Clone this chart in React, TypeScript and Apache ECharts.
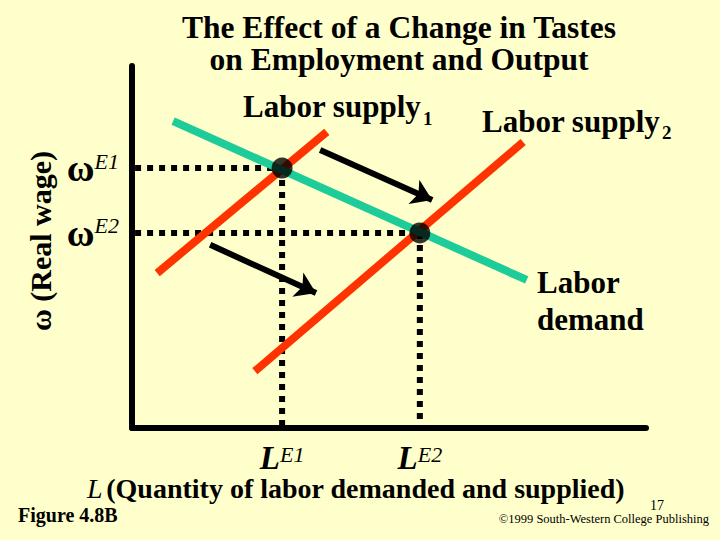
import React, { useEffect, useRef } from "react";
import * as echarts from "echarts";

// ---- data (abstract units: L on x 0..10, real wage on y 0..10) ----
const demandL = [0.8, 7.68];
const demandW = [8.48, 4.09];
const supply1L = [0.49, 3.79];
const supply1W = [4.28, 8.18];
const supply2L = [2.39, 7.61];
const supply2W = [1.57, 7.9];
const equilibriumL = [2.92, 5.6];
const equilibriumW = [7.18, 5.39];
const equilibriumTags = ["E1", "E2"];
const arrowFrom = [[3.66, 7.68], [1.52, 5.06]];
const arrowTo = [[5.84, 6.3], [3.58, 3.73]];

const SERIF = '"Liberation Serif", "Times New Roman", serif';
const RED = "#FF3300";
const TEAL = "#1ECC99";
const BG = "#FFFFCC";

function pairs(xs: number[], ys: number[]) {
  return xs.map((x, i) => [x, ys[i]]);
}

function txt(text: string, x: number, baseline: number, size: number, o: any = {}) {
  return {
    type: "text",
    x,
    y: baseline - 0.34 * size,
    z: 10,
    style: {
      text,
      fontSize: size,
      fontFamily: SERIF,
      fontWeight: o.weight ?? "bold",
      fontStyle: o.style ?? "normal",
      fill: "#000",
      align: o.align ?? "left",
      verticalAlign: "middle",
    },
  };
}

export default function App() {
  const ref = useRef<HTMLDivElement>(null);
  useEffect(() => {
    document.body.style.margin = "0";
    document.body.style.background = BG;
    const chart = echarts.init(ref.current!, null, { renderer: "svg" });

    const dotted = { color: "#000", width: 6, type: [6, 6] as any, cap: "butt" as const };
    const guideSeries: any[] = [];
    equilibriumL.forEach((l, i) => {
      const w = equilibriumW[i];
      guideSeries.push({
        type: "line",
        data: [[0.06, w], [l, w]],
        showSymbol: false,
        lineStyle: dotted,
        z: 1,
        silent: true,
      });
      guideSeries.push({
        type: "line",
        data: [[l, w], [l, 0.05]],
        showSymbol: false,
        lineStyle: dotted,
        z: 1,
        silent: true,
      });
    });

    const option: any = {
      animation: false,
      backgroundColor: BG,
      grid: { left: 132, top: 66, width: 514, height: 362, containLabel: false },
      xAxis: {
        type: "value",
        min: 0,
        max: 10,
        splitLine: { show: false },
        axisTick: { show: false },
        axisLine: { show: true, onZero: false, lineStyle: { color: "#000", width: 6 } },
        axisLabel: {
          customValues: equilibriumL,
          margin: 12,
          formatter: (v: number) => {
            const i = equilibriumL.indexOf(v);
            return `{L|L}{s|${equilibriumTags[i] ?? ""}}`;
          },
          rich: {
            L: { fontSize: 33, fontWeight: "bold", fontStyle: "italic", fontFamily: SERIF, color: "#000", lineHeight: 35 },
            s: { fontSize: 22, fontStyle: "italic", fontFamily: SERIF, color: "#000", lineHeight: 22, verticalAlign: "top", padding: [3, 0, 0, 0] },
          },
        },
      },
      yAxis: {
        type: "value",
        min: 0,
        max: 10,
        splitLine: { show: false },
        axisTick: { show: false },
        axisLine: { show: true, onZero: false, lineStyle: { color: "#000", width: 6 } },
        axisLabel: {
          customValues: equilibriumW,
          margin: 13,
          formatter: (v: number) => {
            const i = equilibriumW.indexOf(v);
            return `{w|ω}{s|${equilibriumTags[i] ?? ""}}`;
          },
          rich: {
            w: { fontSize: 38, fontWeight: "bold", fontFamily: SERIF, color: "#000", lineHeight: 36 },
            s: { fontSize: 22, fontStyle: "italic", fontFamily: SERIF, color: "#000", lineHeight: 22, verticalAlign: "top" },
          },
        },
      },
      series: [
        ...guideSeries,
        {
          name: "Labor supply 1",
          type: "line",
          data: pairs(supply1L, supply1W),
          showSymbol: false,
          lineStyle: { color: RED, width: 8, cap: "butt" },
          z: 2,
        },
        {
          name: "Labor supply 2",
          type: "line",
          data: pairs(supply2L, supply2W),
          showSymbol: false,
          lineStyle: { color: RED, width: 8, cap: "butt" },
          z: 2,
        },
        {
          name: "Labor demand",
          type: "line",
          data: pairs(demandL, demandW),
          showSymbol: false,
          lineStyle: { color: TEAL, width: 8, cap: "butt" },
          z: 3,
        },
        {
          type: "lines",
          coordinateSystem: "cartesian2d",
          data: arrowFrom.map((f, i) => ({ coords: [f, arrowTo[i]] })),
          symbol: ["none", "arrow"],
          symbolSize: 20,
          lineStyle: { color: "#000", width: 6, opacity: 1 },
          z: 4,
        },
        {
          type: "scatter",
          data: pairs(equilibriumL, equilibriumW),
          symbol: "circle",
          symbolSize: 21,
          itemStyle: { color: "#000" },
          z: 5,
        },
      ],
      graphic: [
        txt("The Effect of a Change in Tastes", 399, 38, 31.5, { align: "center" }),
        txt("on Employment and Output", 399, 70, 31.5, { align: "center" }),
        txt("Labor supply", 243, 117, 31),
        txt("1", 423, 125, 19),
        txt("Labor supply", 482, 132, 31),
        txt("2", 662, 139, 19),
        txt("Labor", 537, 293, 31),
        txt("demand", 537, 330, 31),
        {
          type: "text",
          x: 40,
          y: 241,
          rotation: Math.PI / 2,
          z: 10,
          style: {
            text: "ω (Real wage)",
            fontSize: 30,
            fontFamily: SERIF,
            fontWeight: "bold",
            fill: "#000",
            align: "center",
            verticalAlign: "middle",
          },
        },
        {
          type: "text",
          x: 356,
          y: 498 - 0.34 * 28,
          z: 10,
          style: {
            text: "{i|L} {b|(Quantity of labor demanded and supplied)}",
            align: "center",
            verticalAlign: "middle",
            rich: {
              i: { fontSize: 28, fontFamily: SERIF, fontStyle: "italic", fill: "#000" },
              b: { fontSize: 28, fontFamily: SERIF, fontWeight: "bold", fill: "#000" },
            },
          },
        },
        txt("17", 650, 510, 14, { weight: "normal" }),
        txt("Figure 4.8B", 18, 522, 20),
        txt("©1999 South-Western College Publishing", 709, 523, 12.5, { weight: "normal", align: "right" }),
      ],
    };
    chart.setOption(option);
    return () => chart.dispose();
  }, []);
  return <div ref={ref} style={{ width: 720, height: 540 }} />;
}
